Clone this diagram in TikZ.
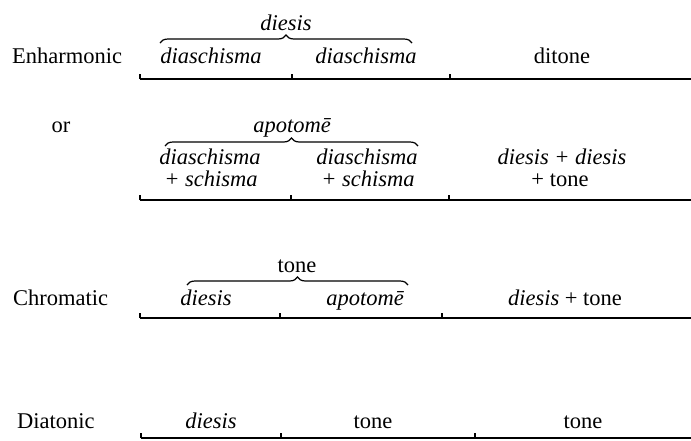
\documentclass[tikz,border=0pt]{standalone}
\usepackage{fontspec}
\setmainfont{Liberation Serif}
\usetikzlibrary{decorations.pathreplacing}
\begin{document}
\begin{tikzpicture}[x=1pt,y=-1pt,
  txt/.style={inner sep=0pt,anchor=base,font=\fontsize{22.5}{20}\selectfont},
  lbl/.style={txt,anchor=base west},
  it/.style={txt,font=\fontsize{22.5}{20}\selectfont\itshape},
  rule/.style={line width=1.3pt},
  tickmark/.style={line width=1.2pt},
  ovbrace/.style={decorate,decoration={brace,amplitude=8pt},line width=1.2pt}]
\useasboundingbox[fill=white] (0,0) rectangle (691,440);

% ---------- Enharmonic ----------
\node[lbl] (enh) at (12,63) {Enharmonic};
\node[it] (e1) at (211,63) {diaschisma};
\node[it] (e2) at (366,63) {diaschisma};
\node[txt] (e3) at (562,63) {ditone};
\node[it] (ediesis) at (286,30) {diesis};
\coordinate (eb1) at (160,43);
\coordinate (eb2) at (412,43);
\draw[ovbrace] (eb1) -- (eb2);
\coordinate (ea) at (140,79);
\coordinate (eb) at (292,79);
\coordinate (ec) at (450,79);
\coordinate (ed) at (691,79);
\draw[rule] (ea) -- (ed);
\draw[tickmark] (ea) -- ++(0,-5);
\draw[tickmark] (eb) -- ++(0,-5);
\draw[tickmark] (ec) -- ++(0,-5);

% ---------- or ----------
\node[txt] (or) at (61,132) {or};
\node[it] (apo) at (292,132) {apotom\=e};
\coordinate (ob1) at (165,146);
\coordinate (ob2) at (418,146);
\draw[ovbrace] (ob1) -- (ob2);
\node[it] (o1a) at (210,164) {diaschisma};
\node[it] (o1b) at (211,186) {+ schisma};
\node[it] (o2a) at (367,164) {diaschisma};
\node[it] (o2b) at (368,186) {+ schisma};
\node[it] (o3a) at (562,164) {diesis + diesis};
\node[txt] (o3b) at (560,186) {+ tone};
\coordinate (oa) at (140,200);
\coordinate (ob) at (291,200);
\coordinate (oc) at (449,200);
\coordinate (od) at (691,200);
\draw[rule] (oa) -- (od);
\draw[tickmark] (oa) -- ++(0,-5);
\draw[tickmark] (ob) -- ++(0,-5);
\draw[tickmark] (oc) -- ++(0,-5);

% ---------- Chromatic ----------
\node[lbl] (chr) at (13,305) {Chromatic};
\node[txt] (ctone) at (297,272) {tone};
\coordinate (cb1) at (187,285);
\coordinate (cb2) at (408,285);
\draw[ovbrace] (cb1) -- (cb2);
\node[it] (c1) at (206,305) {diesis};
\node[it] (c2) at (365,305) {apotom\=e};
\node[txt] (c3) at (565,305) {\textit{diesis} + tone};
\coordinate (ca) at (140,318);
\coordinate (cb) at (280,318);
\coordinate (cc) at (442,318);
\coordinate (cd) at (691,318);
\draw[rule] (ca) -- (cd);
\draw[tickmark] (ca) -- ++(0,-5);
\draw[tickmark] (cb) -- ++(0,-5);
\draw[tickmark] (cc) -- ++(0,-5);

% ---------- Diatonic ----------
\node[lbl] (dia) at (17,428) {Diatonic};
\node[it] (d1) at (211,428) {diesis};
\node[txt] (d2) at (373,428) {tone};
\node[txt] (d3) at (583,428) {tone};
\coordinate (da) at (141,438);
\coordinate (db) at (281,438);
\coordinate (dc) at (475,438);
\coordinate (dd) at (691,438);
\draw[rule] (da) -- (dd);
\draw[tickmark] (da) -- ++(0,-5);
\draw[tickmark] (db) -- ++(0,-5);
\draw[tickmark] (dc) -- ++(0,-5);
\end{tikzpicture}
\end{document}
